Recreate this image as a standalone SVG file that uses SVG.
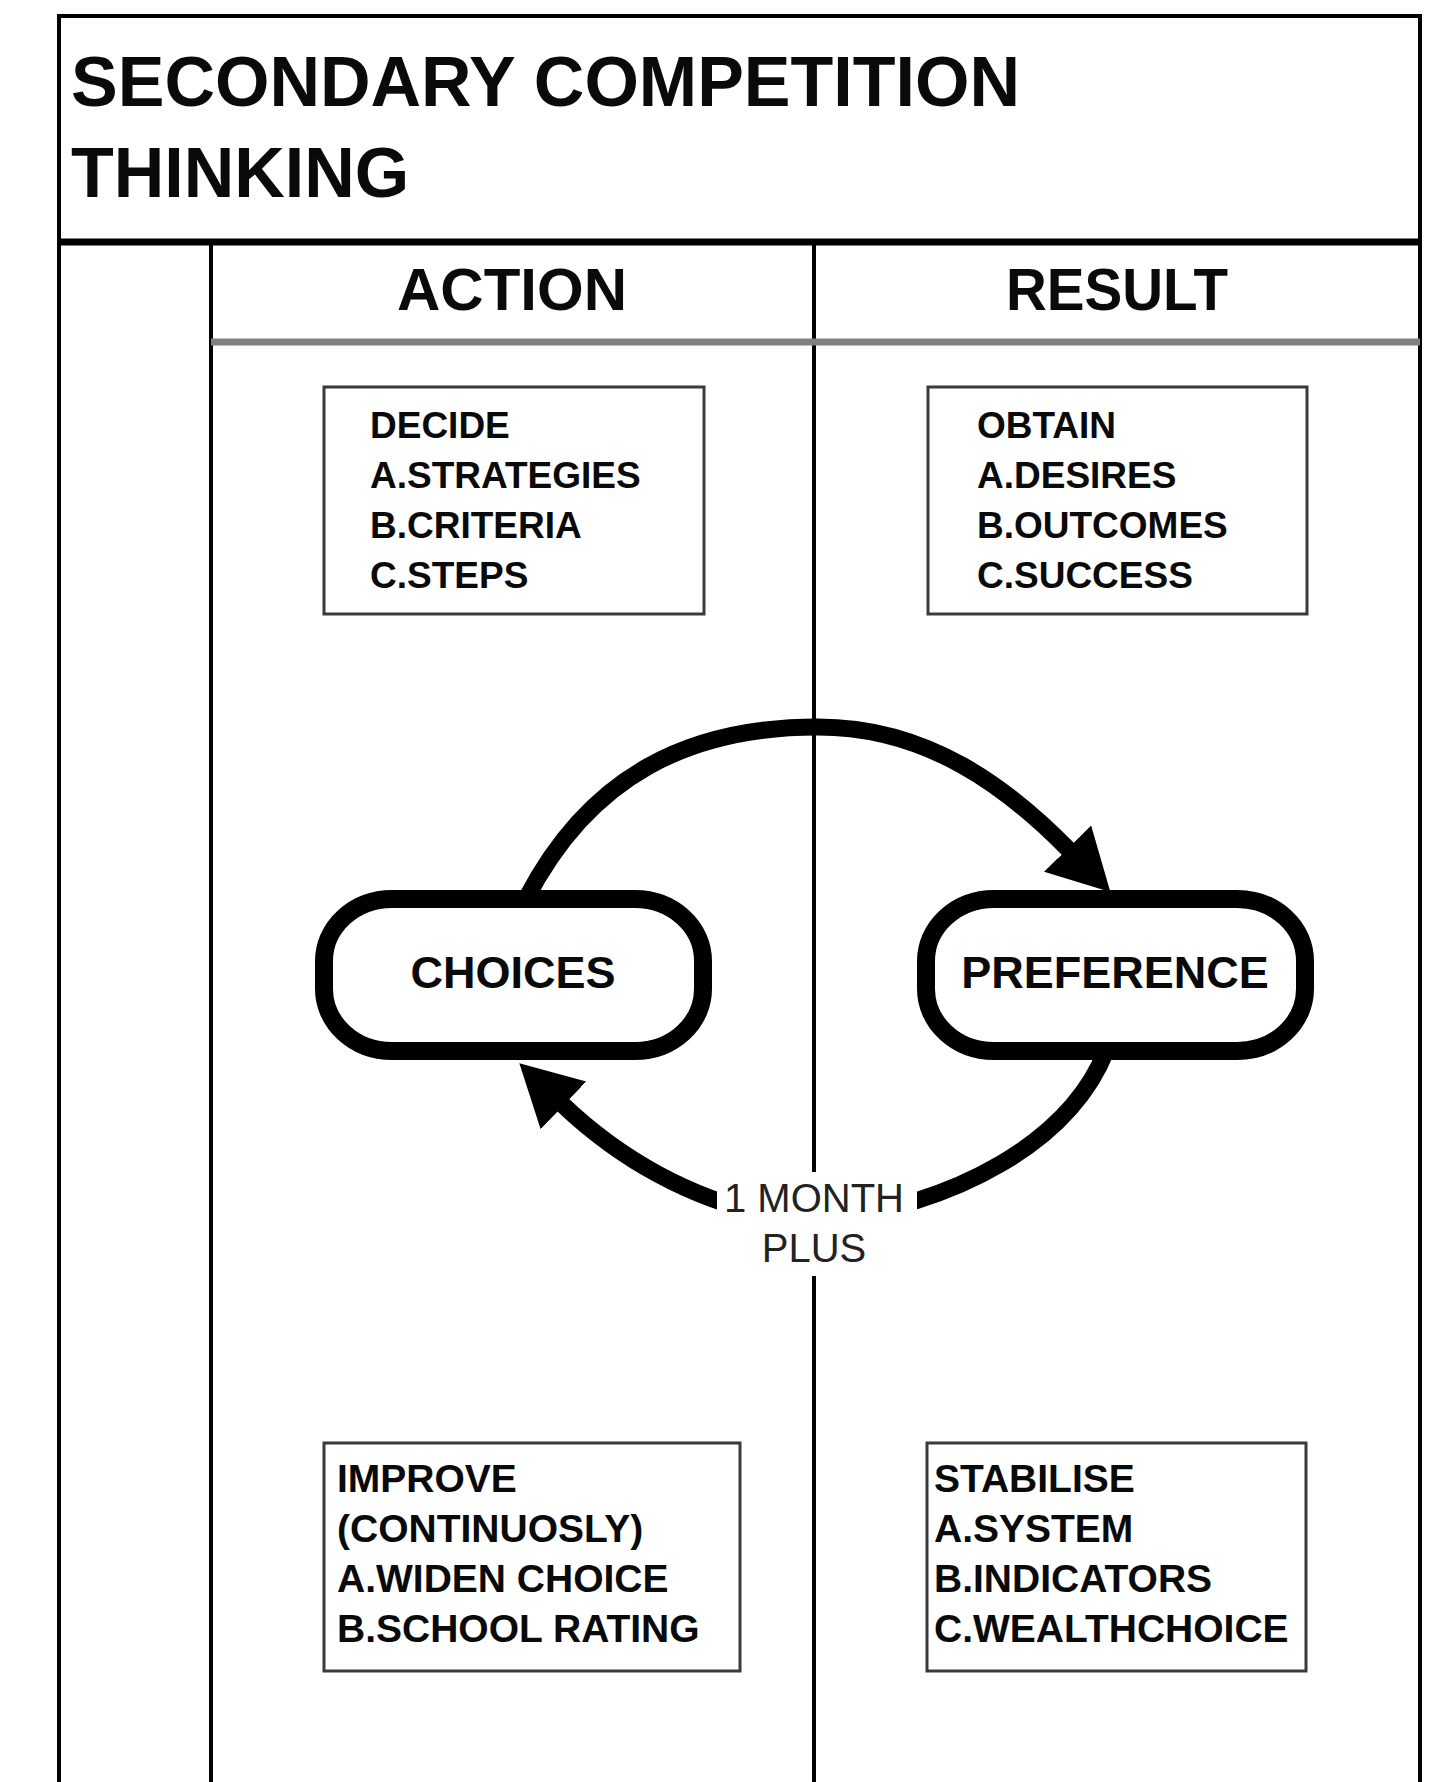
<svg xmlns="http://www.w3.org/2000/svg" width="1443" height="1782" viewBox="0 0 1443 1782">
<defs>
<style>
.lane{fill:none;stroke:#000}
.ttl{font-family:"Liberation Sans",Arial,sans-serif;font-weight:bold;fill:#0a0a0a}
.box{fill:#fff;stroke:#3a3a3a;stroke-width:3}
.bt{font-family:"Liberation Sans",Arial,sans-serif;font-weight:bold;fill:#0a0a0a}
.pill{fill:#fff;stroke:#000;stroke-width:18}
.pt{font-family:"Liberation Sans",Arial,sans-serif;font-weight:bold;font-size:45px;fill:#0a0a0a;text-anchor:middle}
.conn{fill:none;stroke:#000;stroke-width:17}
.lbl{font-family:"Liberation Sans",Arial,sans-serif;font-size:40px;fill:#222;text-anchor:middle}
</style>
<marker id="ah" markerUnits="userSpaceOnUse" viewBox="0 0 62 70" markerWidth="62" markerHeight="70" refX="2" refY="35" orient="auto">
<path d="M0,2 L61,35 L0,68 Z" fill="#000"/>
</marker>
</defs>
<rect x="0" y="0" width="1443" height="1782" fill="#fff"/>
<g id="pool">
<rect class="lane" x="59" y="16" width="1361" height="1770" stroke-width="4"/>
<line class="lane" x1="59" y1="242" x2="1420" y2="242" stroke-width="7"/>
<line class="lane" x1="211" y1="242" x2="211" y2="1782" stroke-width="4"/>
<line class="lane" x1="814" y1="242" x2="814" y2="1782" stroke-width="4"/>
<line x1="211" y1="342" x2="1420" y2="342" stroke="#808080" stroke-width="7"/>
<text class="ttl" x="71" y="106" font-size="70">SECONDARY COMPETITION</text>
<text class="ttl" x="71" y="197" font-size="70">THINKING</text>
<text class="ttl" x="512" y="310" font-size="60" text-anchor="middle">ACTION</text>
<text class="ttl" x="1117" y="310" font-size="60" text-anchor="middle" textLength="222" lengthAdjust="spacingAndGlyphs">RESULT</text>
</g>
<g id="connectors">
<path class="conn" d="M526,899 C590,775 690,727 818,727 C930,727 1010,790 1069,850" marker-end="url(#ah)"/>
<path class="conn" d="M1106,1051 C1070,1140 960,1205 814,1222 C690,1210 606,1146 562,1104" marker-end="url(#ah)"/>
<g id="label-1month">
<rect x="717" y="1172" width="200" height="104" fill="#fff"/>
<text class="lbl" x="814" y="1212">1 MONTH</text>
<text class="lbl" x="814" y="1262">PLUS</text>
</g>
</g>
<g id="choices">
<rect class="pill" x="324" y="899" width="379" height="152" rx="68" ry="62"/>
<text class="pt" x="513" y="988">CHOICES</text>
</g>
<g id="preference">
<rect class="pill" x="926" y="899" width="379" height="152" rx="68" ry="62"/>
<text class="pt" x="1115" y="988">PREFERENCE</text>
</g>
<g id="decide">
<rect class="box" x="324" y="387" width="380" height="227"/>
<text class="bt" font-size="37"><tspan x="370" y="438">DECIDE</tspan><tspan x="370" y="488">A.STRATEGIES</tspan><tspan x="370" y="538">B.CRITERIA</tspan><tspan x="370" y="588">C.STEPS</tspan></text>
</g>
<g id="obtain">
<rect class="box" x="928" y="387" width="379" height="227"/>
<text class="bt" font-size="37"><tspan x="977" y="438">OBTAIN</tspan><tspan x="977" y="488">A.DESIRES</tspan><tspan x="977" y="538">B.OUTCOMES</tspan><tspan x="977" y="588">C.SUCCESS</tspan></text>
</g>
<g id="improve">
<rect class="box" x="324" y="1443" width="416" height="228"/>
<text class="bt" font-size="39"><tspan x="337" y="1492">IMPROVE</tspan><tspan x="337" y="1542">(CONTINUOSLY)</tspan><tspan x="337" y="1592">A.WIDEN CHOICE</tspan><tspan x="337" y="1642">B.SCHOOL RATING</tspan></text>
</g>
<g id="stabilise">
<rect class="box" x="927" y="1443" width="379" height="228"/>
<text class="bt" font-size="39"><tspan x="934" y="1492">STABILISE</tspan><tspan x="934" y="1542">A.SYSTEM</tspan><tspan x="934" y="1592">B.INDICATORS</tspan><tspan x="934" y="1642">C.WEALTHCHOICE</tspan></text>
</g>
</svg>
